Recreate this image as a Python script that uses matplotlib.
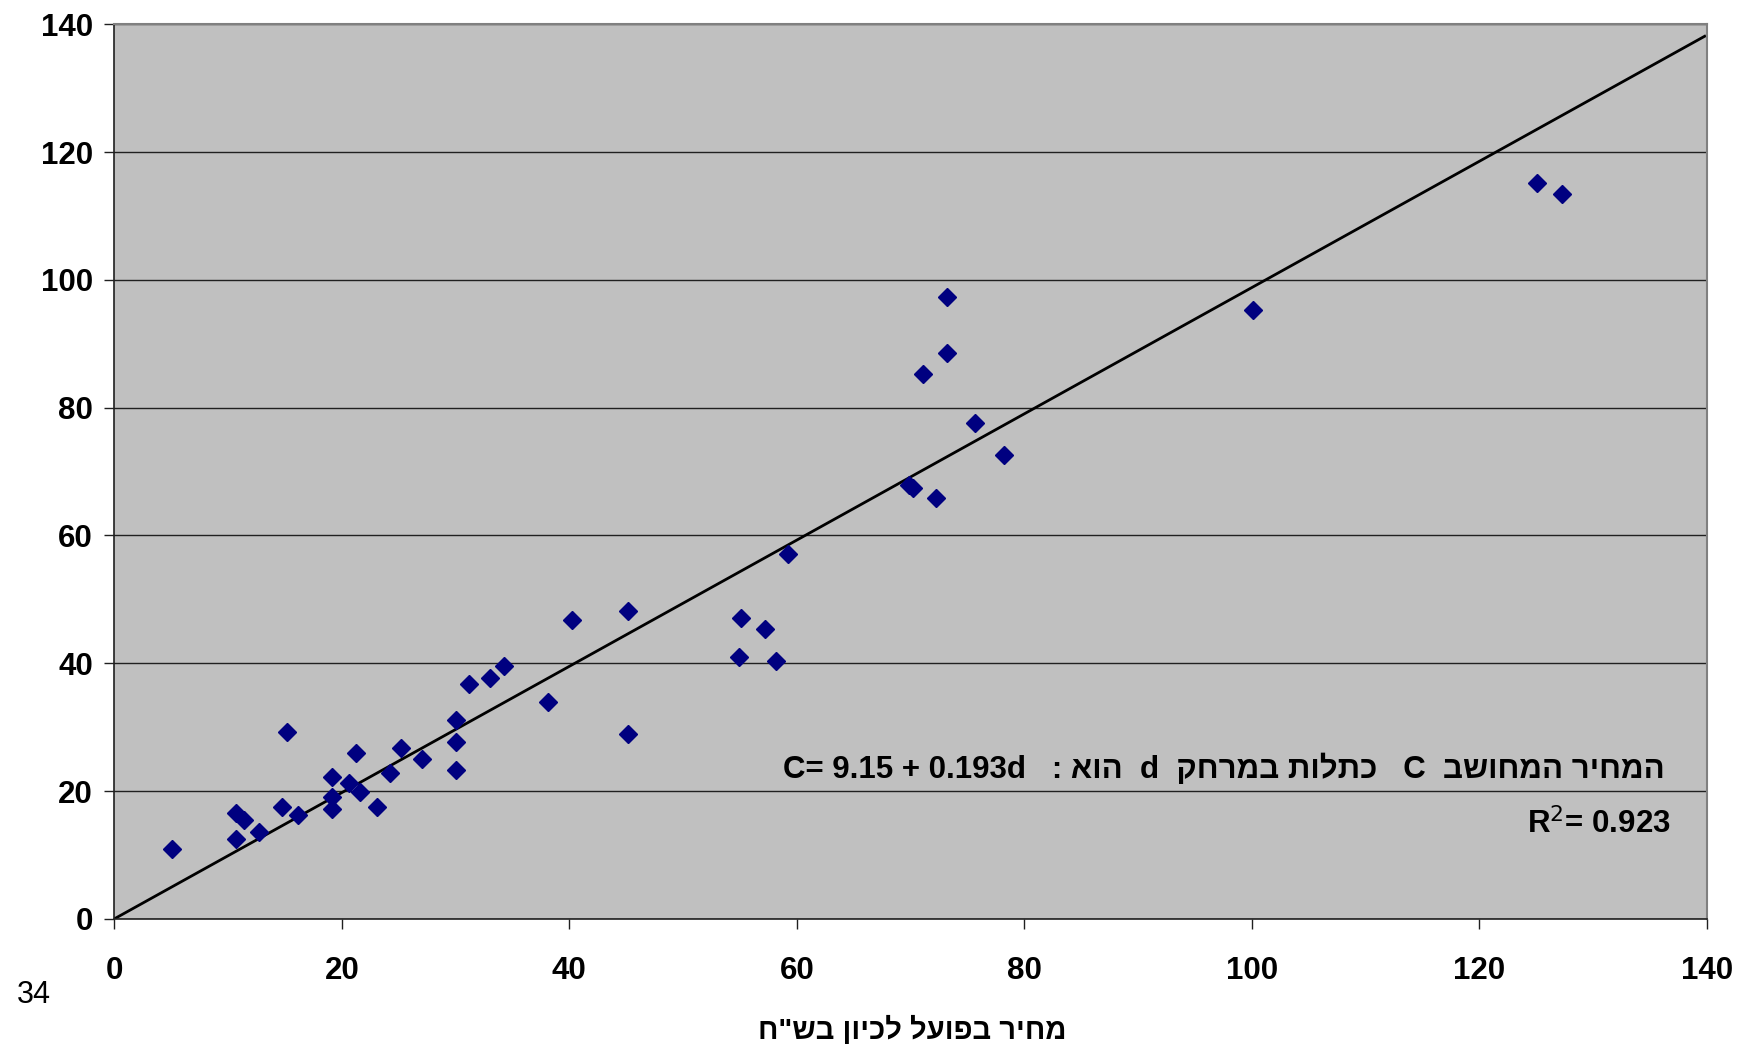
import re
import matplotlib
matplotlib.use("Agg")
import matplotlib.pyplot as plt
import numpy as np

plt.rcParams['font.family'] = ['Liberation Sans', 'DejaVu Sans']

# actual price (x) vs computed price (y)
actual = [5.05, 10.67, 10.67, 11.43, 12.72, 14.77, 15.18, 16.12, 19.17, 19.17,
          19.17, 20.64, 21.22, 21.6, 23.1, 24.2, 25.18, 27.05, 30.07, 30.07,
          30.07, 31.19, 33.06, 34.23, 38.16, 40.2, 45.14, 45.14, 54.9, 55.07,
          57.2, 58.15, 59.26, 69.9, 70.2, 71.13, 72.24, 73.18, 73.18, 75.65,
          78.25, 100.14, 125.1, 127.25]
computed = [10.9, 12.5, 16.6, 15.5, 13.55, 17.56, 29.25, 16.26, 22.26, 19.1,
            17.15, 21.2, 25.9, 19.9, 17.56, 22.9, 26.7, 24.98, 31.1, 27.6,
            23.3, 36.8, 37.65, 39.5, 34.0, 46.8, 48.1, 28.9, 41.0, 47.05,
            45.4, 40.4, 57.07, 67.9, 67.4, 85.2, 65.8, 88.6, 97.3, 77.6,
            72.6, 95.3, 115.1, 113.4]

trend_slope = 0.988
trend_x = [0, 139.8]

ticks = [0, 20, 40, 60, 80, 100, 120, 140]

x_label = 'מחיר בפועל לכיון בש"ח'
eq_text = "המחיר המחושב  C   כתלות במרחק  d  הוא :   C= 9.15 + 0.193d"
r2_text = "R$^2$= 0.923"
page_no = "34"


def visual(s):
    # matplotlib has no bidi: flip to visual order, keep latin runs readable
    r = s[::-1]
    return re.sub(r"[A-Za-z0-9][A-Za-z0-9 .+=]*[A-Za-z0-9]|[A-Za-z0-9]",
                  lambda m: m.group(0)[::-1], r)


fig = plt.figure(figsize=(17.4, 10.5), dpi=100)
ax = fig.add_axes([0.0657, 0.1249, 0.9153, 0.852])
ax.set_facecolor("#C0C0C0")

ax.set_xlim(0, 140)
ax.set_ylim(0, 140)
ax.set_xticks(ticks)
ax.set_yticks(ticks)
ax.yaxis.grid(True, color="#202020", linewidth=1.0)
ax.set_axisbelow(True)

tx = np.array(trend_x)
ax.plot(tx, trend_slope * tx, color="black", linewidth=2, zorder=2)
ax.plot(actual, computed, linestyle="none", marker="D", markersize=9.5,
        color="#000080", zorder=3)

for s in ["top", "right"]:
    ax.spines[s].set_color("#808080")
    ax.spines[s].set_linewidth(1.5)
for s in ["left", "bottom"]:
    ax.spines[s].set_color("#202020")
    ax.spines[s].set_linewidth(1.2)

ax.tick_params(axis="both", direction="out", length=7, width=1, color="#202020",
               labelsize=22.5)
ax.tick_params(axis="x", pad=20)
ax.tick_params(axis="y", pad=8.5)
for lab in ax.get_xticklabels() + ax.get_yticklabels():
    lab.set_fontweight("bold")

ax.text(0.9733, 0.167, visual(eq_text), transform=ax.transAxes, ha="right",
        va="center", fontsize=22.5, fontweight="bold")
ax.text(0.977, 0.106, r2_text, transform=ax.transAxes, ha="right",
        va="center", fontsize=22.5, fontweight="bold")

fig.text(912 / 1740, 1 - 1030 / 1050, visual(x_label), ha="center",
         va="center", fontsize=21, fontweight="bold")
fig.text(34 / 1740, 1 - 995 / 1050, page_no, ha="center", va="center",
         fontsize=22)

fig.savefig("out.png", dpi=100)
